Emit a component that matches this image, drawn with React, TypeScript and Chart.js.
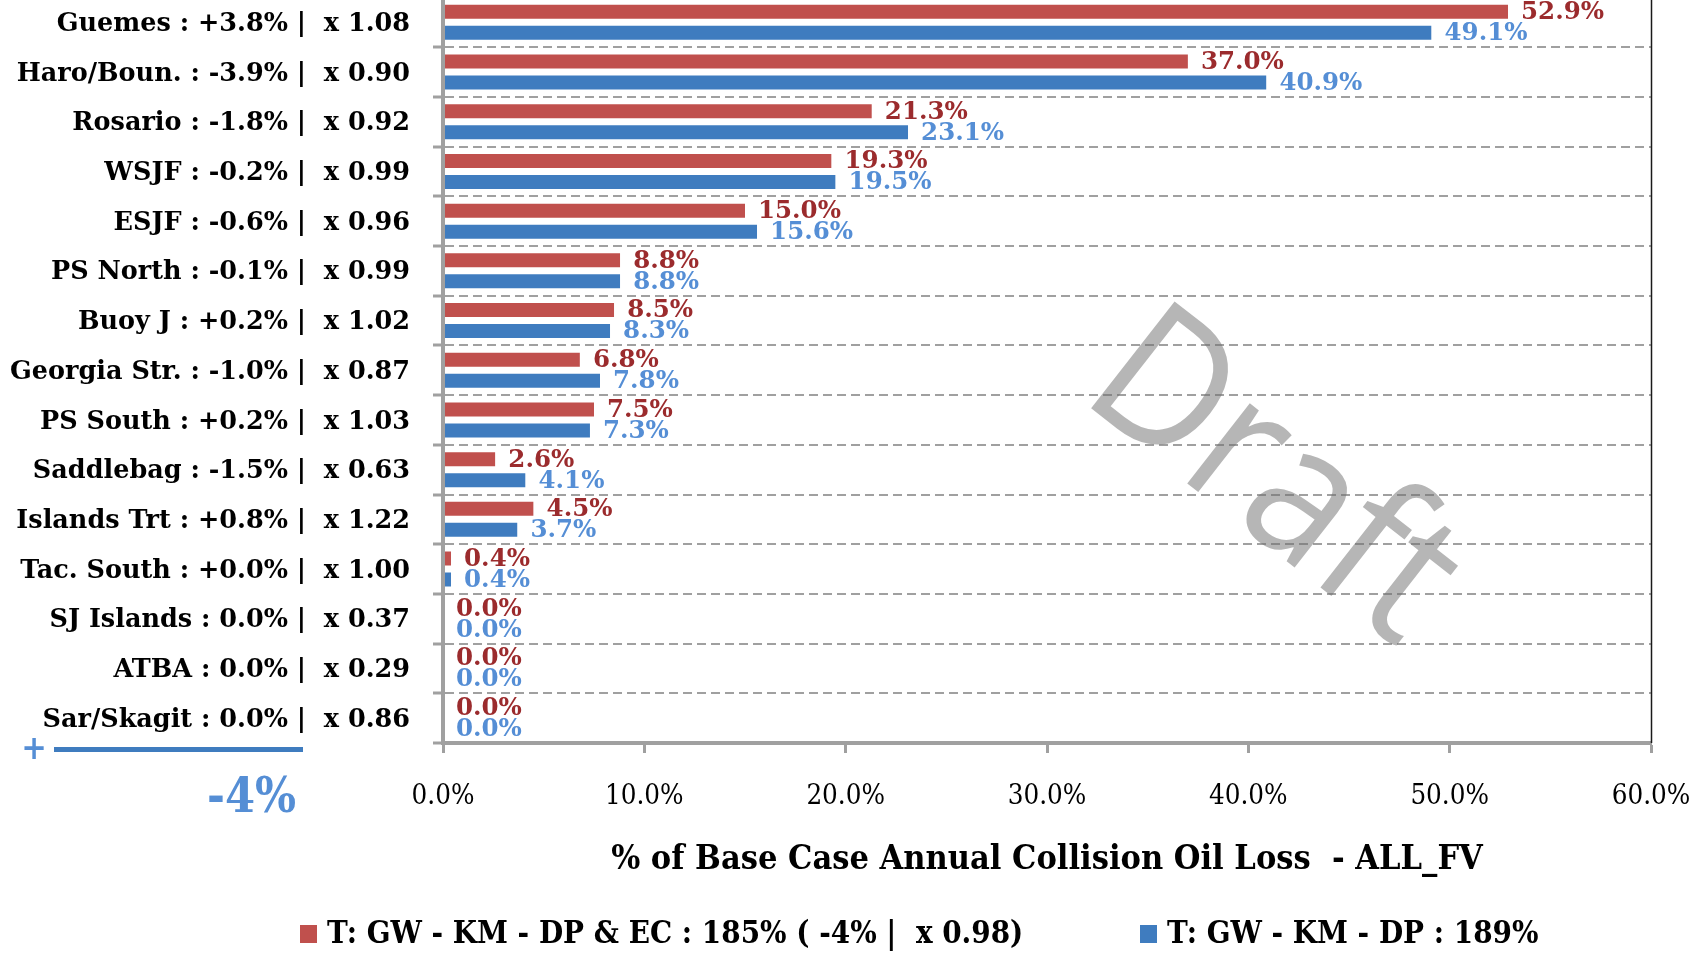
import React, { useEffect, useRef } from "react";
import { Chart, registerables } from "chart.js";

Chart.register(...registerables);

// ---------- data ----------
const regions = [
  "Guemes", "Haro/Boun.", "Rosario", "WSJF", "ESJF", "PS North", "Buoy J",
  "Georgia Str.", "PS South", "Saddlebag", "Islands Trt", "Tac. South",
  "SJ Islands", "ATBA", "Sar/Skagit",
];
const pctChange = [
  "+3.8%", "-3.9%", "-1.8%", "-0.2%", "-0.6%", "-0.1%", "+0.2%", "-1.0%",
  "+0.2%", "-1.5%", "+0.8%", "+0.0%", "0.0%", "0.0%", "0.0%",
];
const factor = [
  "1.08", "0.90", "0.92", "0.99", "0.96", "0.99", "1.02", "0.87", "1.03",
  "0.63", "1.22", "1.00", "0.37", "0.29", "0.86",
];
const seriesEC = [52.9, 37.0, 21.3, 19.3, 15.0, 8.8, 8.5, 6.8, 7.5, 2.6, 4.5, 0.4, 0.0, 0.0, 0.0];
const seriesDP = [49.1, 40.9, 23.1, 19.5, 15.6, 8.8, 8.3, 7.8, 7.3, 4.1, 3.7, 0.4, 0.0, 0.0, 0.0];
const seriesNames = [
  "T: GW - KM - DP & EC : 185% ( -4% |  x 0.98)",
  "T: GW - KM - DP : 189%",
];
const xMin = 0;
const xMax = 60;
const xStep = 10;
const axisTitle = "% of Base Case Annual Collision Oil Loss  - ALL_FV";
const deltaLabel = "-4%";
const watermarkText = "Draft";

// ---------- style ----------
const OFF = 10; // canvas is shifted up by this many px
const BAR_COLORS = ["#C0504D", "#3F7CBF"];
const LABEL_COLORS = ["#9B2B2D", "#558ED5"];
const AXIS_GRAY = "#A0A0A0";
const SERIF_C = '"DejaVu Serif Condensed", "DejaVu Serif", serif';
const SERIF = '"DejaVu Serif", serif';

const categoryLabels = regions.map((r, i) => `${r} : ${pctChange[i]} |  x ${factor[i]}`);

const extrasPlugin = {
  id: "extras",
  afterDatasetsDraw(chart: any) {
    const ctx = chart.ctx;
    ctx.save();
    ctx.font = `bold 24.5px ${SERIF}`;
    ctx.textBaseline = "middle";
    ctx.textAlign = "left";
    chart.data.datasets.forEach((ds: any, di: number) => {
      const meta = chart.getDatasetMeta(di);
      ctx.fillStyle = LABEL_COLORS[di];
      meta.data.forEach((el: any, i: number) => {
        const v = Number(ds.data[i]);
        ctx.fillText(v.toFixed(1) + "%", el.x + 13, el.y + 1);
      });
    });
    ctx.restore();
  },
  afterDraw(chart: any) {
    const ctx = chart.ctx;
    const area = chart.chartArea;
    ctx.save();
    // right plot border
    ctx.strokeStyle = "#1a1a1a";
    ctx.lineWidth = 1.5;
    ctx.beginPath();
    ctx.moveTo(area.right + 0.5, area.top);
    ctx.lineTo(area.right + 0.5, area.bottom);
    ctx.stroke();

    // legend
    ctx.font = `bold 31px ${SERIF_C}`;
    ctx.textBaseline = "middle";
    ctx.textAlign = "left";
    const legendX = [300, 1140];
    const legendY = 934 + OFF;
    seriesNames.forEach((name, i) => {
      ctx.fillStyle = BAR_COLORS[i];
      ctx.fillRect(legendX[i], legendY - 9, 17, 18);
      ctx.fillStyle = "#000";
      ctx.fillText(name, legendX[i] + 27, legendY + 1);
    });

    // "+ ----" marker and delta
    ctx.fillStyle = BAR_COLORS[1];
    ctx.fillRect(54, 747 + OFF, 249, 5);
    ctx.fillStyle = LABEL_COLORS[1];
    ctx.font = `bold 34px ${SERIF_C}`;
    ctx.textAlign = "center";
    ctx.fillText("+", 34, 750 + OFF);
    ctx.font = `bold 48px ${SERIF_C}`;
    ctx.textAlign = "right";
    ctx.fillText(deltaLabel, 296, 800 + OFF);

    // watermark
    ctx.translate(1078, 398 + OFF);
    ctx.rotate((38 * Math.PI) / 180);
    ctx.scale(0.9, 1);
    ctx.font = `190px "Open Sans", "DejaVu Sans", sans-serif`;
    ctx.textAlign = "left";
    ctx.textBaseline = "alphabetic";
    ctx.fillStyle = "rgba(110,110,110,0.5)";
    ctx.fillText(watermarkText, 0, 0);
    ctx.restore();
  },
};

export default function App() {
  const ref = useRef<HTMLCanvasElement | null>(null);

  useEffect(() => {
    if (!ref.current) return;
    const chart = new Chart(ref.current, {
      type: "bar",
      data: {
        labels: categoryLabels,
        datasets: [
          {
            label: seriesNames[0],
            data: seriesEC,
            backgroundColor: BAR_COLORS[0],
            borderColor: "rgba(0,0,0,0)",
            borderWidth: { top: 3.5, bottom: 3.5, left: 0, right: 0 } as any,
            borderSkipped: "start",
            categoryPercentage: 0.845,
            barPercentage: 1,
          },
          {
            label: seriesNames[1],
            data: seriesDP,
            backgroundColor: BAR_COLORS[1],
            borderColor: "rgba(0,0,0,0)",
            borderWidth: { top: 3.5, bottom: 3.5, left: 0, right: 0 } as any,
            borderSkipped: "start",
            categoryPercentage: 0.845,
            barPercentage: 1,
          },
        ],
      },
      options: {
        indexAxis: "y",
        responsive: false,
        animation: false,
        events: [],
        layout: { padding: { left: 0, right: 55, top: 7.5, bottom: 76 } },
        plugins: {
          legend: { display: false },
          tooltip: { enabled: false },
          title: { display: false },
        },
        scales: {
          x: {
            type: "linear",
            min: xMin,
            max: xMax,
            ticks: {
              stepSize: xStep,
              padding: 27,
              color: "#000",
              font: { family: SERIF_C, size: 27.5, weight: "normal" },
              callback: (v: any) => Number(v).toFixed(1) + "%",
            },
            grid: {
              drawOnChartArea: false,
              drawTicks: true,
              tickLength: 10,
              tickWidth: 3,
              tickColor: AXIS_GRAY,
              color: AXIS_GRAY,
            },
            border: { display: true, color: AXIS_GRAY, width: 4, z: 1 },
            title: {
              display: true,
              text: axisTitle,
              color: "#000",
              font: { family: SERIF_C, size: 34, weight: "bold", lineHeight: 1 },
              padding: { top: 0, bottom: 0 },
            },
            afterFit: (s: any) => {
              s.height = 134;
              s.paddingLeft = 0;
              s.paddingRight = 0;
            },
          },
          y: {
            type: "category",
            ticks: {
              padding: 23,
              labelOffset: 2,
              color: "#000",
              font: { family: SERIF, size: 25.5, weight: "bold" },
            },
            grid: {
              offset: true,
              drawOnChartArea: true,
              drawTicks: true,
              tickLength: 10,
              tickWidth: 3,
              tickColor: AXIS_GRAY,
              tickBorderDash: [],
              color: AXIS_GRAY,
              lineWidth: 2,
            },
            border: { display: true, color: AXIS_GRAY, width: 4, dash: [9, 5], z: 1 },
            afterFit: (s: any) => {
              s.width = 443;
              s.paddingTop = 0;
              s.paddingBottom = 0;
            },
          },
        },
      } as any,
      plugins: [extrasPlugin],
    });
    return () => chart.destroy();
  }, []);

  return (
    <div style={{ position: "absolute", left: 0, top: -OFF, width: 1706, height: 953 + OFF }}>
      <canvas ref={ref} width={1706} height={953 + OFF} style={{ width: 1706, height: 953 + OFF, display: "block" }} />
    </div>
  );
}
